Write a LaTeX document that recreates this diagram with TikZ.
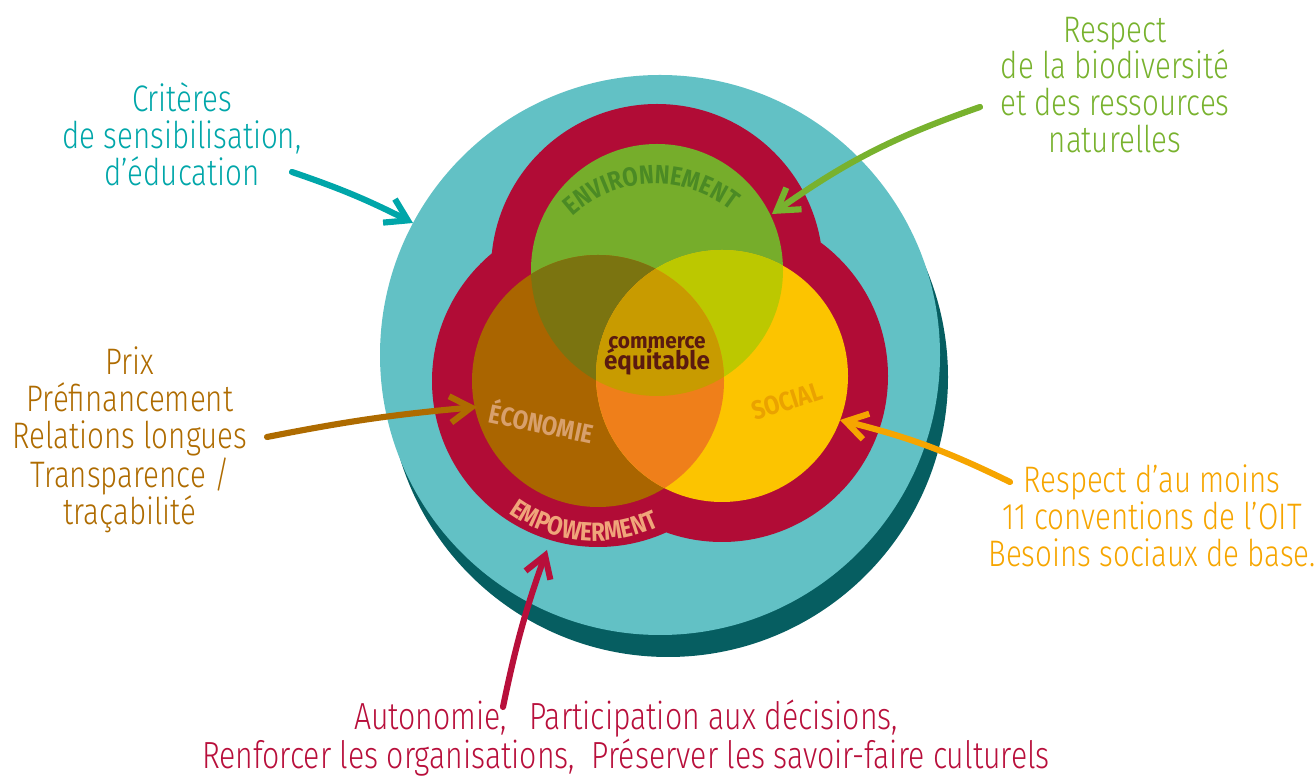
\documentclass[tikz,border=0pt]{standalone}
\usepackage{fontspec}
\usetikzlibrary{arrows.meta,decorations.text}
\newfontfamily\hand{Fira Sans Light}[FakeStretch=0.8]
\newfontfamily\din{Fira Sans}[FakeStretch=0.85]
\newfontfamily\dince{Fira Sans}[FakeStretch=0.95]
\definecolor{ombre}{HTML}{065E61}
\definecolor{lagon}{HTML}{62C1C5}
\definecolor{pourpre}{HTML}{B10C36}
\definecolor{vert}{HTML}{76AD2B}
\definecolor{brun}{HTML}{AA6500}
\definecolor{jaune}{HTML}{FCC400}
\definecolor{olive}{HTML}{7B7410}
\definecolor{citron}{HTML}{BCC800}
\definecolor{orangeve}{HTML}{EF7F1A}
\definecolor{coeur}{HTML}{C89B00}
\definecolor{envmot}{HTML}{4B8A24}
\definecolor{ecomot}{HTML}{D8A06C}
\definecolor{socmot}{HTML}{EAA200}
\definecolor{empmot}{HTML}{F0A57A}
\definecolor{cemot}{HTML}{5A1A10}
\definecolor{tsarc}{HTML}{00A6A9}
\definecolor{tvert}{HTML}{78B22E}
\definecolor{tbrun}{HTML}{AE6B00}
\definecolor{torange}{HTML}{F6A500}
\definecolor{tpourpre}{HTML}{B80F3B}
\tikzset{
  texte/.style={font=\hand\fontsize{21}{21}\selectfont, align=center},
  mot/.style={font=\din\bfseries\fontsize{15}{15}\selectfont},
  fleche/.style={line width=3.5pt, line cap=round, line join=round,
    -{Straight Barb[length=12pt,width=15pt]}}
}
\begin{document}
\begin{tikzpicture}[x=0.02cm,y=0.02cm]
  \useasboundingbox (0,0) rectangle (1316,781);
  \fill[ombre] (668,404) circle (280);
  \fill[lagon] (660,426) circle (280);
  \coordinate (env) at (657,511);
  \coordinate (eco) at (598,400);
  \coordinate (soc) at (722,405);
  \fill[pourpre] (env) circle (166) (eco) circle (166) (soc) circle (166);
  \fill[vert] (env) circle (126);
  \fill[brun] (eco) circle (126);
  \fill[jaune] (soc) circle (126);
  \begin{scope}
    \clip (env) circle (126);
    \fill[olive] (eco) circle (126);
    \fill[citron] (soc) circle (126);
  \end{scope}
  \begin{scope}
    \clip (eco) circle (126);
    \fill[orangeve] (soc) circle (126);
    \clip (soc) circle (126);
    \fill[coeur] (env) circle (126);
  \end{scope}

  \path[decorate, decoration={text along path, text align=center,
    text={|\din\bfseries\fontsize{15}{15}\selectfont\color{envmot}|ENVIRONNEMENT}}]
    ([shift={(150:122)}]655,475) arc[start angle=150, end angle=34, radius=122];
  \path[decorate, decoration={text along path, text align=center,
    text={|\din\bfseries\fontsize{15}{15}\selectfont\color{empmot}|EMPOWERMENT}}]
    ([shift={(-130:150)}]595,390) arc[start angle=-130, end angle=-60, radius=150];
  \node[mot, text=ecomot, rotate=-12] (ecotxt) at (542,360) {ÉCONOMIE};
  \node[mot, text=socmot, rotate=18] (soctxt) at (787,380) {SOCIAL};
  \node[font=\dince\bfseries\fontsize{12.5}{12.5}\selectfont, text=cemot, anchor=base] (ce1) at (657,432) {commerce};
  \node[font=\dince\bfseries\fontsize{14.5}{14.5}\selectfont, text=cemot, anchor=base] (ce2) at (657,411) {équitable};

  \node[texte, text=tsarc] (crit) at (182,647) {Critères\\de sensibilisation,\\d’éducation};
  \node[texte, text=tvert] (bio) at (1115,696) {Respect\\de la biodiversité\\et des ressources\\naturelles};
  \node[texte, text=tbrun] (prix) at (130,341) {Prix\\Préfinancement\\Relations longues\\Transparence /\\traçabilité};
  \node[texte, text=torange] (oit) at (1152,265) {Respect d’au moins\\11 conventions de l’OIT\\Besoins sociaux de base.};
  \node[texte, font=\hand\fontsize{21.5}{22.5}\selectfont, text=tpourpre] (auto) at (626,43) {Autonomie,\hspace{0.6em}Participation aux décisions,\\Renforcer les organisations,\ \ Préserver les savoir-faire culturels};

  \coordinate (critq) at (292,609);
  \coordinate (critp) at (413,558);
  \coordinate (bioq) at (980,674);
  \coordinate (biop) at (772,567);
  \coordinate (prixq) at (267,344);
  \coordinate (prixp) at (477,374);
  \coordinate (oitq) at (1010,299);
  \coordinate (oitp) at (840,361);
  \coordinate (autoq) at (503,74);
  \coordinate (autop) at (547,231);
  \begin{scope}[fleche]
    \draw[tsarc] (critq) to[bend left=4] (critp);
    \draw[tvert] (bioq) to[bend right=8] (biop);
    \draw[tbrun] (prixq) to[bend left=3] (prixp);
    \draw[torange] (oitq) to[bend right=6] (oitp);
    \draw[tpourpre] (autoq) to[bend left=4] (autop);
  \end{scope}
\end{tikzpicture}
\end{document}
